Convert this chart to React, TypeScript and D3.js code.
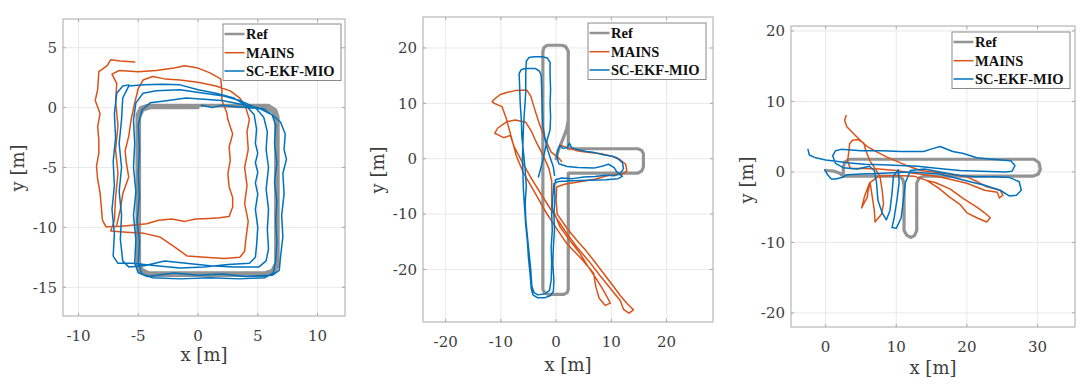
import React from 'react';
import * as d3 from 'd3';

type Pt = [number, number];

// ---------------- Panel 1 data ----------------
const P1_XDOMAIN: Pt = [-11.3, 12.3];
const P1_YDOMAIN: Pt = [-17.4, 7.4];
const P1_XTICKS = [-10, -5, 0, 5, 10];
const P1_YTICKS = [-15, -10, -5, 0, 5];

const P1_REF: Pt[] = [
  [0, 0.2], [5.9, 0.2], [6.5, -0.2], [6.7, -0.8], [6.7, -13.2], [6.4, -13.8], [5.8, -14.0], [-4.3, -14.0],
  [-4.9, -13.7], [-5.1, -13.1], [-5.1, -0.6], [-4.8, 0.0], [-4.2, 0.2], [0, 0.2], [5.7, 0.0], [6.3, -0.4],
  [6.5, -1.0], [6.5, -13.0], [6.2, -13.6], [5.6, -13.8], [-4.1, -13.8], [-4.7, -13.5], [-4.9, -12.9],
  [-4.9, -0.8], [-4.6, -0.2], [-4.0, 0.0], [0, 0.0],
];

const P1_MAINS: Pt[] = [
  [-6.8, -9.8], [-6.5, -8.5], [-6.3, -7.2], [-5.8, -5.8], [-6.0, -4.6], [-6.1, -3.6], [-5.8, -2.4], [-5.6, -1.0],
  [-5.3, 0.4], [-5.0, 1.6], [-4.6, 2.3], [-3.8, 2.6], [-2.8, 2.4], [-1.5, 2.3], [0.1, 2.1], [1.5, 1.8], [2.7, 1.4],
  [3.5, 0.8], [4.0, 0.0], [4.3, -1.0], [4.1, -2.0], [4.2, -3.5], [3.9, -5.0], [4.1, -6.5], [3.9, -8.0], [4.2, -9.5],
  [4.0, -11.0], [3.9, -12.0], [3.5, -12.5], [2.2, -12.6], [0.6, -12.5], [-0.9, -12.4], [-2.0, -11.6], [-3.2, -10.8],
  [-4.5, -10.5], [-6.0, -10.4], [-7.3, -10.3], [-7.0, -9.4], [-6.9, -7.5], [-6.7, -5.5], [-6.9, -3.5], [-6.7, -1.5],
  [-6.9, 0.5], [-6.8, 2.0], [-7.2, 2.8], [-6.6, 3.1], [-5.0, 3.0], [-3.5, 3.1], [-2.0, 3.3], [-1.1, 3.5], [0.0, 3.3],
  [1.0, 2.9], [1.9, 2.4], [2.0, 1.4], [2.0, 0.6], [2.4, -0.4], [2.5, -1.0], [2.9, -2.2], [2.6, -3.3], [2.7, -4.4],
  [2.5, -5.5], [2.6, -6.6], [2.9, -7.5], [2.9, -8.3], [2.6, -9.1], [1.8, -9.2], [0.9, -9.25], [-0.2, -9.3],
  [-1.1, -9.5], [-2.2, -9.3], [-3.3, -9.4], [-4.3, -9.7], [-5.3, -9.8], [-6.5, -9.9], [-7.7, -9.95], [-8.0, -9.4],
  [-8.1, -8.2], [-8.2, -7.1], [-8.4, -6.0], [-8.5, -4.9], [-8.3, -3.8], [-8.3, -2.7], [-8.4, -1.6], [-8.2, -0.5],
  [-8.6, 0.6], [-8.4, 1.5], [-8.3, 3.0], [-7.6, 3.5], [-7.3, 4.0], [-6.5, 3.9], [-5.3, 3.8],
];

const P1_MIO: Pt[] = [
  [0.3, 0.2], [1.2, 0.0], [2.0, 0.2], [3.0, 0.1], [4.2, 0.0], [5.5, -0.1], [6.2, -0.6], [6.5, -1.5], [6.4, -3.0],
  [6.6, -4.6], [6.4, -6.2], [6.6, -7.8], [6.5, -9.5], [6.6, -11.2], [6.5, -12.8], [6.3, -13.8], [5.6, -14.2],
  [3.5, -14.3], [1.0, -14.2], [-1.5, -14.3], [-3.8, -14.2], [-4.7, -13.9], [-5.0, -13.0], [-4.9, -11.2],
  [-5.1, -9.4], [-4.9, -7.5], [-5.0, -5.5], [-4.9, -3.5], [-5.0, -1.5], [-4.7, -0.2], [-4.0, 0.4],
  [-2.5, 0.6], [-1.0, 0.8], [0.5, 0.7], [2.0, 0.6], [3.5, 0.3], [5.0, 0.0], [6.2, -0.6], [6.9, -1.2], [7.3, -2.2],
  [7.2, -3.5], [7.4, -4.3], [7.1, -5.5], [7.2, -7.2], [7.0, -9.0], [7.1, -10.8], [6.9, -12.5], [6.8, -13.6],
  [6.2, -14.0], [4.0, -14.1], [2.0, -13.9], [0.0, -14.0], [-2.0, -13.8], [-4.2, -14.1], [-5.0, -13.8],
  [-5.3, -13.0], [-5.2, -11.0], [-5.4, -9.0], [-5.2, -7.0], [-5.4, -5.0], [-5.3, -3.0], [-5.4, -1.0],
  [-5.2, 0.4], [-4.6, 1.2], [-3.5, 1.4], [-1.5, 1.5], [0.5, 1.2], [2.0, 1.0], [3.5, 0.6], [4.8, 0.0],
  [5.5, -0.8], [5.8, -2.0], [5.7, -3.5], [5.9, -5.0], [5.7, -6.8], [5.9, -8.5], [5.8, -10.2], [5.9, -11.8],
  [5.7, -12.8], [5.1, -13.3], [3.0, -13.3], [1.0, -13.2], [-1.0, -13.0], [-2.8, -12.8], [-4.5, -13.2],
  [-5.8, -13.3], [-6.3, -12.8], [-6.5, -11.0], [-6.4, -9.0], [-6.6, -7.0], [-6.4, -5.0], [-6.6, -3.0],
  [-6.4, -1.0], [-6.3, 0.8], [-5.8, 1.8], [-4.5, 1.9], [-3.0, 1.95], [-1.5, 1.9], [0.0, 1.5], [1.5, 1.2],
  [3.0, 0.8], [4.0, 0.2], [4.7, -0.6], [4.9, -1.8], [4.8, -3.0], [5.0, -3.8], [4.8, -4.6], [5.0, -5.4],
  [4.8, -6.3], [5.0, -7.2], [4.8, -8.5], [5.0, -10.0], [4.9, -11.5], [4.8, -12.5], [4.3, -13.0], [2.5, -13.1],
  [0.5, -13.3], [-1.5, -13.4], [-3.5, -13.2], [-5.5, -13.0], [-6.7, -13.0], [-7.1, -12.4], [-7.0, -10.5],
  [-7.2, -8.5], [-7.0, -6.5], [-7.1, -4.5], [-6.9, -2.5], [-7.0, -0.5], [-6.8, 1.2], [-6.3, 1.8], [-5.8, 1.9],
];

// ---------------- Panel 2 data ----------------
const P2_XDOMAIN: Pt = [-24.1, 28.4];
const P2_YDOMAIN: Pt = [-29.5, 25.6];
const P2_XTICKS = [-20, -10, 0, 10, 20];
const P2_YTICKS = [-20, -10, 0, 10, 20];

const P2_REF: Pt[] = [
  [0, 0], [0.4, 1.5], [1.2, 3.5], [1.9, 5.3], [2.2, 7.0], [2.2, 19.4], [1.7, 20.3], [1.0, 20.5], [-1.6, 20.5],
  [-2.2, 20.1], [-2.4, 19.4], [-2.4, -23.6], [-2.1, -24.2], [-1.5, -24.5], [1.4, -24.5], [2.0, -24.2],
  [2.2, -23.6], [2.2, -2.6], [14.8, -2.6], [15.5, -2.2], [15.8, -1.5], [15.8, 0.9], [15.5, 1.5], [14.8, 1.8],
  [2.2, 1.8], [2.2, 7.0],
];

const P2_MAINS: Pt[] = [
  [0.7, 2.5], [2.0, 2.0], [4.0, 1.4], [6.0, 1.1], [8.2, 0.9], [10.2, 0.4], [11.6, -0.2], [12.6, -1.0],
  [12.8, -2.2], [12.0, -2.8], [9.5, -3.0], [7.0, -3.7], [4.0, -4.2], [1.5, -4.6], [0.1, -5.1], [0.0, -7.5],
  [0.2, -10.0], [2.0, -12.6], [3.7, -14.7], [5.4, -16.6], [6.8, -18.4], [8.5, -20.6], [10.4, -23.1],
  [11.6, -24.7], [12.8, -26.1], [14.0, -27.3], [13.2, -27.9], [12.2, -27.2], [11.6, -25.6], [9.8, -23.4],
  [8.0, -21.2], [6.0, -18.6], [3.7, -15.9], [1.6, -13.0], [-0.5, -9.9], [-2.6, -6.6], [-4.7, -3.2],
  [-6.3, -0.3], [-7.6, 2.2], [-8.3, 4.2], [-9.5, 3.8], [-10.5, 4.3], [-11.1, 4.6], [-10.6, 5.5], [-8.9, 6.7],
  [-7.4, 7.0], [-5.5, 6.6], [-4.5, 5.0], [-3.5, 2.8], [-2.3, 0.5], [-1.3, -1.8], [-0.8, -4.0], [-0.8, -8.7],
  [0.7, -12.3], [2.5, -14.8], [4.3, -17.1], [5.8, -19.5], [7.4, -21.9], [8.4, -23.5], [9.2, -24.9],
  [9.8, -26.1], [8.9, -26.5], [7.8, -25.2], [7.2, -23.2], [6.8, -20.7], [4.5, -18.0], [1.9, -15.3],
  [0.0, -12.5], [-1.7, -9.9], [-3.8, -6.2], [-5.9, -2.6], [-7.2, 0.5], [-8.3, 4.6], [-9.0, 7.2], [-9.8, 9.4],
  [-11.2, 10.0], [-11.6, 10.3], [-10.9, 11.0], [-10.1, 11.6], [-8.8, 12.0], [-7.4, 12.3], [-5.3, 12.4],
  [-4.6, 11.3], [-3.9, 9.0], [-3.1, 6.5], [-2.1, 3.8], [-0.9, 1.2], [0.3, 0.3], [1.0, -0.5],
];

const P2_MIO: Pt[] = [
  [-3.2, -3.3], [-2.8, -1.8], [-2.3, 0.2], [-2.0, 1.6], [-1.6, 3.5], [-1.1, 5.2], [-1.0, 7.5], [-1.1, 10],
  [-1.0, 12.5], [-1.1, 15], [-1.1, 17.4], [-1.6, 18.2], [-2.5, 18.4], [-4.0, 18.4], [-4.9, 18.3], [-5.4, 17.6],
  [-5.5, 15], [-5.5, 12], [-5.7, 9], [-5.9, 6], [-6.0, 3], [-6.1, 0], [-6.0, -3], [-5.9, -6], [-5.7, -9],
  [-5.5, -12], [-5.2, -15], [-5.0, -18], [-4.7, -21], [-4.5, -23.5], [-4.2, -24.6], [-3.4, -25.1], [-2.0, -25.1],
  [-1.0, -24.7], [-0.5, -24.0], [-0.4, -22], [-0.6, -19], [-0.5, -16], [-0.3, -13], [-0.4, -10], [-0.2, -7],
  [-0.3, -5], [-0.1, -3.8], [1.0, -3.5], [3.0, -3.6], [5.0, -3.3], [7.0, -3.2], [9.0, -3.0], [10.5, -3.1],
  [11.6, -2.7], [12.2, -1.8], [12.0, -0.7], [11.0, 0.2], [10.0, 0.5], [8.5, 0.7], [7.0, 1.1], [5.5, 1.3],
  [4.0, 1.6], [2.8, 2.0], [2.4, 2.8], [2.0, 2.0], [1.2, 1.9], [0.7, 2.4], [0.3, 1.5], [0.1, 0.4], [0.5, -0.9],
  [2.0, -1.4], [4.0, -1.6], [6.8, -1.7], [8.5, -1.3], [9.5, -1.0], [10.5, -1.6], [11.0, -2.4], [12.0, -3.2],
  [11.2, -3.6], [9.0, -3.8], [6.0, -3.9], [3.0, -4.0], [0.5, -4.1], [-0.4, -4.5], [-0.6, -7], [-0.8, -10],
  [-0.7, -13], [-0.9, -16], [-0.8, -19], [-0.9, -22], [-1.2, -23.8], [-2.0, -24.4], [-3.3, -24.6], [-4.0, -24.2],
  [-4.4, -23], [-4.6, -20], [-4.9, -17], [-5.2, -14], [-5.5, -11], [-5.6, -8], [-5.4, -5], [-5.6, -2], [-5.9, 1],
  [-6.2, 4], [-6.3, 7], [-6.5, 10], [-6.6, 13], [-6.7, 15.4], [-6.3, 16.1], [-5.5, 16.3], [-3.8, 16.3],
  [-3.0, 15.8], [-2.7, 15], [-2.6, 12], [-2.5, 9], [-2.4, 6], [-2.0, 3.5], [-1.5, 1.5], [-1.0, 0], [-0.5, -1.5],
  [-0.3, -3.0],
];

// ---------------- Panel 3 data ----------------
const P3_XDOMAIN: Pt = [-4.9, 35.3];
const P3_YDOMAIN: Pt = [-22.0, 20.7];
const P3_XTICKS = [0, 10, 20, 30];
const P3_YTICKS = [-20, -10, 0, 10, 20];

const P3_REF: Pt[] = [
  [0, 0.2], [1.2, 0.1], [2.0, -0.2], [2.5, -0.6], [10.4, -0.6], [10.9, -1.0], [11.1, -1.8], [11.1, -8.3],
  [11.5, -9.0], [12.1, -9.3], [12.6, -9.0], [12.9, -8.3], [12.9, -1.6], [13.2, -0.9], [13.9, -0.6],
  [29.4, -0.6], [30.1, -0.3], [30.4, 0.4], [30.2, 1.3], [29.5, 1.8], [3.4, 1.8], [2.7, 1.4], [2.5, 0.6],
  [2.5, -0.6],
];

const P3_MAINS: Pt[] = [
  [2.9, 8.0], [2.7, 7.3], [3.0, 6.4], [3.6, 5.8], [4.4, 5.0], [5.2, 4.2], [5.9, 3.6], [7.3, 2.8], [8.7, 2.1],
  [10.1, 1.5], [11.5, 0.9], [13.4, 0.2], [16.7, -0.2], [20.0, -0.7], [21.5, -1.4], [22.8, -2.1], [24.7, -2.6],
  [25.1, -3.3], [24.6, -3.7], [24.3, -2.9], [22.5, -2.6], [20.0, -1.6], [17.0, -0.9], [15.0, -0.5],
  [12.4, -0.2], [10.0, 0.2], [7.5, 0.4], [5.5, 0.5], [3.5, 0.5], [3.1, 1.5], [3.3, 3.0], [3.4, 4.0],
  [3.8, 4.5], [4.6, 4.6], [5.4, 4.1], [5.7, 3.0], [6.3, 1.5], [7.0, 0.5], [7.7, -0.7], [8.0, -2.6],
  [8.2, -4.5], [7.9, -6.0], [7.0, -7.1], [6.9, -5.5], [6.6, -3.5], [6.3, -1.5], [6.0, -2.8], [5.9, -3.6],
  [5.4, -4.5], [5.1, -5.1], [5.5, -3.5], [6.2, -1.6], [7.5, -0.6], [10.0, -0.5], [12.5, -0.6], [14.3, -1.2],
  [16.0, -2.3], [17.6, -3.6], [19.0, -4.6], [20.0, -5.8], [21.4, -6.5], [22.8, -7.1], [23.3, -6.5],
  [22.5, -5.8], [21.4, -5.0], [19.5, -3.8], [17.6, -2.4], [15.5, -1.5], [14.3, -1.2],
];

const P3_MIO: Pt[] = [
  [-2.5, 3.2], [-2.3, 2.4], [-1.4, 2.0], [0.0, 1.7], [1.5, 1.5], [3.0, 1.3], [5.5, 1.1], [8.0, 1.0],
  [10.5, 0.9], [13.0, 0.8], [16.0, 0.5], [19.0, 0.2], [22.0, 0.1], [25.5, 0.0], [26.4, 0.1], [26.8, 0.9],
  [26.2, 1.6], [23.5, 1.8], [21.4, 2.0], [19.5, 2.6], [18.0, 2.9], [16.2, 3.6], [14.8, 3.2], [13.9, 2.9],
  [10.6, 2.9], [8.0, 3.0], [5.0, 3.0], [2.2, 3.2], [1.4, 3.0], [1.0, 2.3], [1.4, 1.2], [2.5, 0.6], [4.5, 0.4],
  [6.2, 0.8], [6.9, 0.2], [7.2, -1.5], [7.4, -4.0], [8.0, -5.8], [8.6, -6.8], [9.1, -5.5], [9.4, -3.0],
  [9.6, -0.6], [10.3, 0.3], [10.4, -1.5], [10.1, -4.0], [9.7, -6.5], [9.4, -7.9], [10.0, -8.0], [10.7, -6.5],
  [11.0, -4.0], [11.3, -1.5], [12.0, 0.2], [14.0, 0.4], [16.2, 0.0], [19.0, -0.5], [21.0, -0.7], [24.0, -0.7],
  [26.1, -0.8], [27.4, -1.4], [27.7, -2.6], [27.0, -3.3], [26.0, -3.4], [24.7, -2.6], [22.5, -1.9],
  [20.9, -1.5], [18.5, -0.9], [16.2, -0.3], [12.0, 0.0], [8.0, -0.2], [5.0, -0.3], [3.0, -0.4], [2.3, -0.8],
  [1.4, -1.0], [0.8, -1.0], [0.2, -0.3], [-0.1, 0.3],
];

// ---------------- Legend / labels ----------------
const SERIES_NAMES = ['Ref', 'MAINS', 'SC-EKF-MIO'];
const SERIES_COLORS = ['#939393', '#D95319', '#0072BD'];
const X_LABEL = 'x [m]';
const Y_LABEL = 'y [m]';

interface PanelCfg {
  series: Pt[][];
  xDomain: Pt;
  yDomain: Pt;
  xTicks: number[];
  yTicks: number[];
  box: { x0: number; x1: number; y0: number; y1: number };
  xLabelY: number;
  yLabelX: number;
  yLabelCY: number;
  legend: { x: number; y: number };
}

const PANELS: PanelCfg[] = [
  {
    series: [P1_REF, P1_MAINS, P1_MIO], xDomain: P1_XDOMAIN, yDomain: P1_YDOMAIN,
    xTicks: P1_XTICKS, yTicks: P1_YTICKS,
    box: { x0: 63, x1: 345, y0: 19, y1: 316 }, xLabelY: 361, yLabelX: 24, yLabelCY: 168,
    legend: { x: 223, y: 24 },
  },
  {
    series: [P2_REF, P2_MAINS, P2_MIO], xDomain: P2_XDOMAIN, yDomain: P2_YDOMAIN,
    xTicks: P2_XTICKS, yTicks: P2_YTICKS,
    box: { x0: 423, x1: 713, y0: 17, y1: 322 }, xLabelY: 371, yLabelX: 384, yLabelCY: 170,
    legend: { x: 588, y: 23 },
  },
  {
    series: [P3_REF, P3_MAINS, P3_MIO], xDomain: P3_XDOMAIN, yDomain: P3_YDOMAIN,
    xTicks: P3_XTICKS, yTicks: P3_YTICKS,
    box: { x0: 791, x1: 1075, y0: 26, y1: 327 }, xLabelY: 374, yLabelX: 753, yLabelCY: 180,
    legend: { x: 952, y: 32 },
  },
];

const TICK_FONT = '"DejaVu Serif", serif';
const LEGEND_FONT = '"Liberation Serif", "Times New Roman", serif';
const TEXT_COLOR = '#3d3d3d';

function Panel({ cfg, idx }: { cfg: PanelCfg; idx: number }) {
  const { box } = cfg;
  const x = d3.scaleLinear().domain(cfg.xDomain).range([box.x0, box.x1]);
  const y = d3.scaleLinear().domain(cfg.yDomain).range([box.y1, box.y0]);
  const line = d3.line<Pt>().x((d) => x(d[0])).y((d) => y(d[1]));
  const clipId = `clip-${idx}`;
  const widths = [3.2, 1.5, 1.5];
  const lg = cfg.legend;
  const rowOff = [10, 28.7, 47];
  return (
    <g>
      <defs>
        <clipPath id={clipId}>
          <rect x={box.x0} y={box.y0} width={box.x1 - box.x0} height={box.y1 - box.y0} />
        </clipPath>
      </defs>
      {cfg.xTicks.map((t) => (
        <line key={`gx${t}`} x1={x(t)} x2={x(t)} y1={box.y0} y2={box.y1} stroke="#e8e8e8" strokeWidth={1} />
      ))}
      {cfg.yTicks.map((t) => (
        <line key={`gy${t}`} x1={box.x0} x2={box.x1} y1={y(t)} y2={y(t)} stroke="#e8e8e8" strokeWidth={1} />
      ))}
      <g clipPath={`url(#${clipId})`}>
        {cfg.series.map((s, i) => (
          <path key={i} d={line(s) || ''} fill="none" stroke={SERIES_COLORS[i]} strokeWidth={widths[i]}
            strokeLinejoin="round" strokeLinecap="round" />
        ))}
      </g>
      <rect x={box.x0} y={box.y0} width={box.x1 - box.x0} height={box.y1 - box.y0} fill="none"
        stroke="#a8a8a8" strokeWidth={1} />
      {cfg.xTicks.map((t) => (
        <g key={`tx${t}`}>
          <line x1={x(t)} x2={x(t)} y1={box.y1} y2={box.y1 - 3} stroke="#a8a8a8" />
          <line x1={x(t)} x2={x(t)} y1={box.y0} y2={box.y0 + 3} stroke="#a8a8a8" />
          <text x={x(t)} y={box.y1 + 25} textAnchor="middle" fontFamily={TICK_FONT} fontSize={15} fill={TEXT_COLOR}>
            {t}
          </text>
        </g>
      ))}
      {cfg.yTicks.map((t) => (
        <g key={`ty${t}`}>
          <line x1={box.x0} x2={box.x0 + 3} y1={y(t)} y2={y(t)} stroke="#a8a8a8" />
          <line x1={box.x1} x2={box.x1 - 3} y1={y(t)} y2={y(t)} stroke="#a8a8a8" />
          <text x={box.x0 - 6} y={y(t)} dy="0.36em" textAnchor="end" fontFamily={TICK_FONT} fontSize={15}
            fill={TEXT_COLOR}>
            {t}
          </text>
        </g>
      ))}
      <text x={(box.x0 + box.x1) / 2} y={cfg.xLabelY} textAnchor="middle" fontFamily={TICK_FONT} fontSize={18}
        fill={TEXT_COLOR}>
        {X_LABEL}
      </text>
      <text transform={`translate(${cfg.yLabelX},${cfg.yLabelCY}) rotate(-90)`} textAnchor="middle"
        fontFamily={TICK_FONT} fontSize={18} fill={TEXT_COLOR}>
        {Y_LABEL}
      </text>
      <rect x={lg.x} y={lg.y} width={118} height={56.5} fill="#fff" stroke="#8a8a8a" strokeWidth={1} />
      {SERIES_NAMES.map((n, i) => (
        <g key={n}>
          <line x1={lg.x + 1.5} x2={lg.x + 21.5} y1={lg.y + rowOff[i]} y2={lg.y + rowOff[i]}
            stroke={SERIES_COLORS[i]} strokeWidth={i === 0 ? 2.5 : 1.5} />
          <text x={lg.x + 23} y={lg.y + rowOff[i]} dy="0.35em" fontFamily={LEGEND_FONT} fontWeight="bold"
            fontSize={14.5} fill="#111">
            {n}
          </text>
        </g>
      ))}
    </g>
  );
}

export default function App() {
  return (
    <svg width={1080} height={390} style={{ position: 'absolute', left: 0, top: 0, background: '#fff' }}>
      <rect x={0} y={0} width={1080} height={390} fill="#fff" />
      {PANELS.map((p, i) => (
        <Panel key={i} cfg={p} idx={i} />
      ))}
    </svg>
  );
}
